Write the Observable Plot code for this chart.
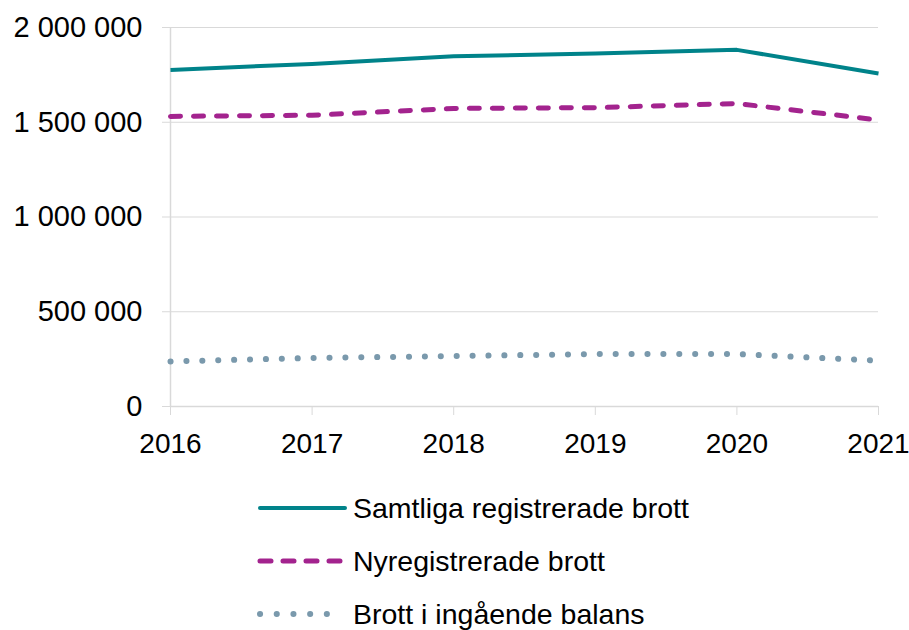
<!DOCTYPE html>
<html>
<head>
<meta charset="utf-8">
<script src="https://cdn.jsdelivr.net/npm/d3@7"></script>
<script src="https://cdn.jsdelivr.net/npm/@observablehq/plot@0.6"></script>
<style>
  body { margin: 0; background: #fff; font-family: "Liberation Sans", Arial, sans-serif; }
  #chart { width: 909px; }
  .legend { position: relative; height: 160px; }
  .legend .row { position: absolute; left: 255px; height: 40px; display: flex; align-items: center; font-size: 28.5px; color: #000; white-space: nowrap; }
  .legend svg { margin-right: 4px; }
</style>
</head>
<body>
<div id="chart"></div>
<script>
const years = [2016, 2017, 2018, 2019, 2020, 2021];
const samtliga = [1776000, 1808000, 1848000, 1863000, 1882000, 1757000];
const nyregistrerade = [1531000, 1537000, 1573000, 1577000, 1599000, 1512000];
const balans = [238000, 256000, 266000, 277000, 277000, 242000];
const yTicks = [0, 500000, 1000000, 1500000, 2000000];
const seriesNames = ["Samtliga registrerade brott", "Nyregistrerade brott", "Brott i ingående balans"];

const styles = [
  {color: "#00838a", width: 4, dash: null, cap: "butt"},
  {color: "#a3238e", width: 5, dash: "10,13", cap: "round"},
  {color: "#7a99ac", width: 6, dash: "0.1,15.8", cap: "round"}
];

const toRows = vals => years.map((y, i) => ({year: y, value: vals[i]}));
const datasets = [samtliga, nyregistrerade, balans].map(toRows);

const fmt = v => d3.format(",")(v).replace(/,/g, " ");

const plot = Plot.plot({
  width: 909,
  height: 470,
  marginLeft: 170,
  marginRight: 31,
  marginTop: 27,
  marginBottom: 64,
  style: {fontFamily: "'Liberation Sans', Arial, sans-serif", fontSize: "29px", color: "#000", background: "#fff"},
  x: {type: "linear", domain: [2016, 2021], label: null},
  y: {type: "linear", domain: [0, 2000000], label: null},
  marks: [
    Plot.gridY(yTicks, {stroke: "#d9d9d9", strokeOpacity: 1, strokeWidth: 1}),
    Plot.ruleX([2016], {stroke: "#d9d9d9", strokeWidth: 1.5}),
    Plot.ruleY([0], {stroke: "#d9d9d9", strokeWidth: 1.5}),
    Plot.axisY(yTicks, {tickFormat: fmt, tickSize: 8, tickPadding: 20, stroke: "#d9d9d9", strokeOpacity: 1, fontSize: 29, fill: "#000", label: null}),
    Plot.axisX(years, {tickFormat: d => String(d), tickSize: 9, tickPadding: 18, stroke: "#d9d9d9", strokeOpacity: 1, fontSize: 28, fill: "#000", label: null}),
    ...datasets.map((data, i) => Plot.line(data, {
      x: "year", y: "value",
      stroke: styles[i].color,
      strokeWidth: styles[i].width,
      strokeDasharray: styles[i].dash,
      strokeLinecap: styles[i].cap,
      strokeLinejoin: "round"
    }))
  ]
});

document.getElementById("chart").appendChild(plot);

const legend = document.createElement("div");
legend.className = "legend";
seriesNames.forEach((name, i) => {
  const row = document.createElement("div");
  row.className = "row";
  row.style.top = (18 + i * 53) + "px";
  const s = styles[i];
  const sw = d3.create("svg").attr("width", 94).attr("height", 12);
  sw.append("line").attr("x1", 5).attr("x2", i === 2 ? 72 : 90).attr("y1", 6).attr("y2", 6)
    .attr("stroke", s.color).attr("stroke-width", s.width)
    .attr("stroke-linecap", "round")
    .attr("stroke-dasharray", i === 1 ? "11,12" : (i === 2 ? "0.1,16.6" : s.dash));
  row.appendChild(sw.node());
  const t = document.createElement("span");
  t.textContent = name;
  row.appendChild(t);
  legend.appendChild(row);
});
document.getElementById("chart").appendChild(legend);
</script>
</body>
</html>
